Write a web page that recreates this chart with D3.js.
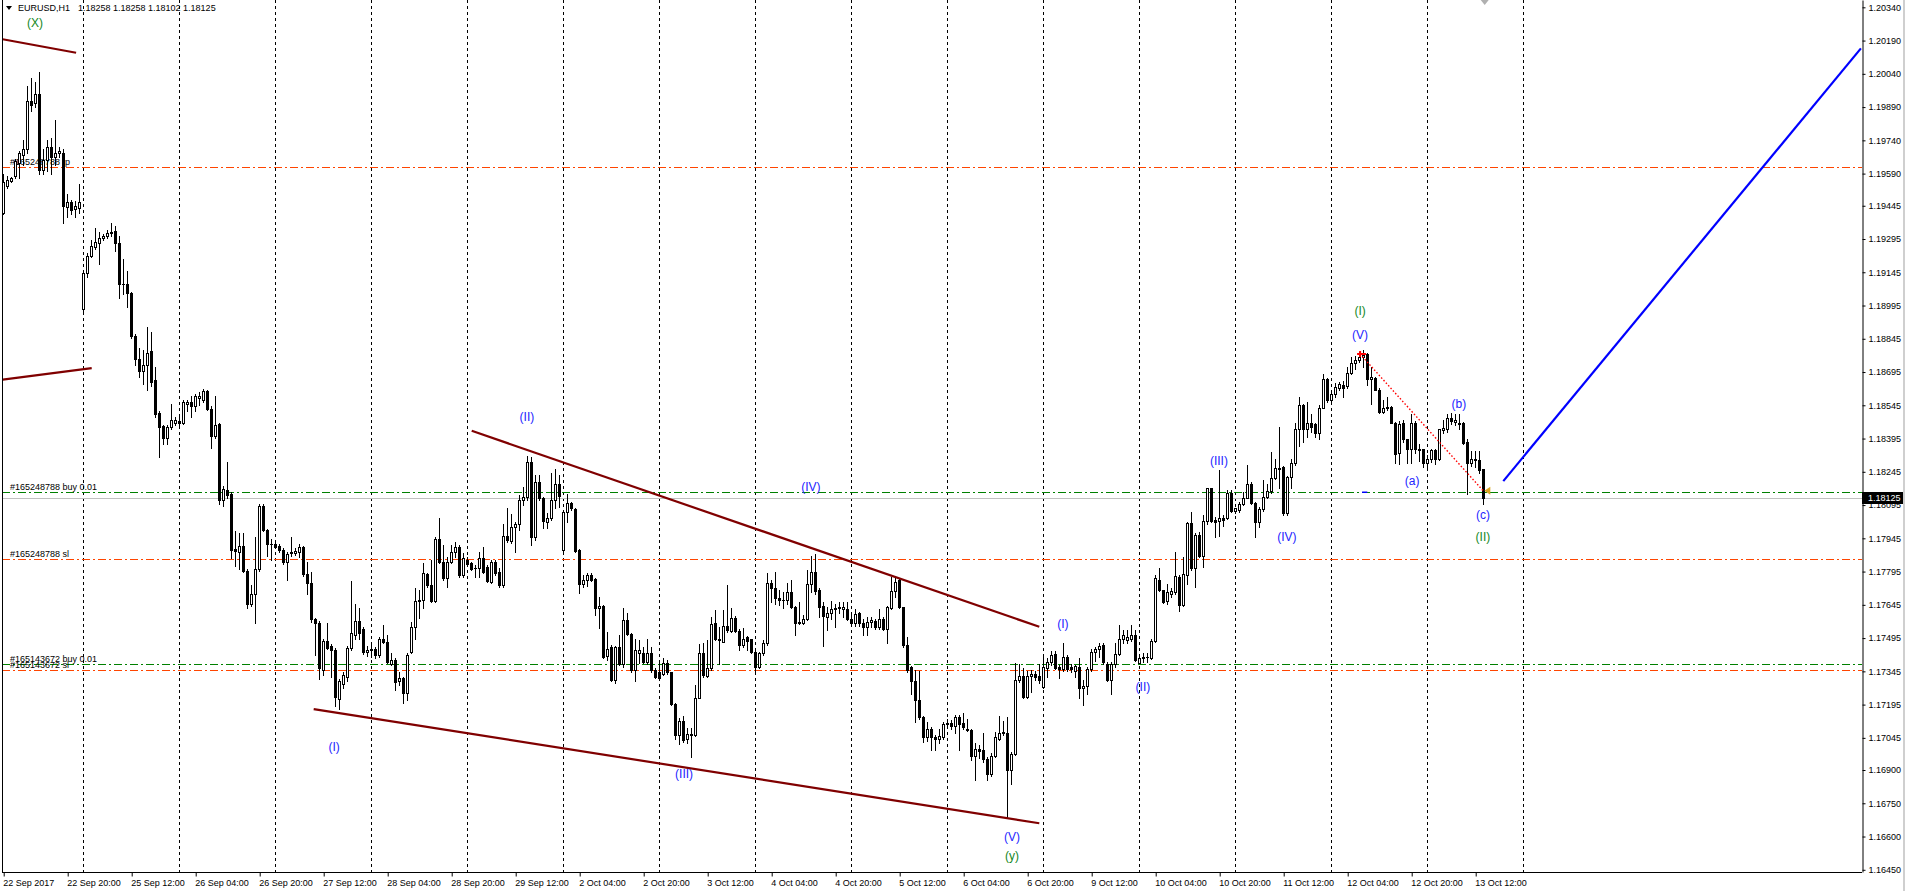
<!DOCTYPE html>
<html>
<head>
<meta charset="utf-8">
<script src="https://cdn.jsdelivr.net/npm/d3@7"></script>
<style>
body { margin: 0; background: #fff; overflow: hidden; }
svg { display: block; }
text { font-family: "Liberation Sans", Arial, sans-serif; }
</style>
</head>
<body>
<script>
// EURUSD H1 bars, one array per trading day, each bar [open, high, low, close]
// given in points above 1.10000 (8125 -> 1.18125)
var sep22 = [[9411,9590,9406,9552],[9533,9580,9524,9561],[9556,9575,9550,9571],[9580,9655,9571,9646],[9640,9693,9571,9683],[9674,9740,9627,9702],[9702,9983,9683,9918],[9918,10021,9871,9899],[9908,10002,9890,9950],[9950,10049,9590,9608],[9608,9700,9590,9650],[9650,9740,9600,9711],[9711,9750,9590,9665],[9665,9833,9627,9683],[9683,9711,9665,9693],[9683,9702,9368,9443],[9440,9496,9393,9462],[9462,9470,9410,9425],[9430,9468,9393,9443],[9436,9543,9412,9462]];
var sep25 = [[8980,9149,8971,9140],[9140,9233,9125,9218],[9218,9290,9214,9265],[9261,9346,9252,9280],[9276,9327,9181,9299],[9299,9318,9290,9308],[9308,9336,9300,9321],[9321,9365,9308,9327],[9333,9355,9243,9275],[9275,9308,9027,9093],[9093,9205,9046,9090],[9093,9149,8990,9050],[9050,9055,8850,8858],[8858,8865,8727,8755],[8755,8802,8671,8699],[8699,8793,8643,8727],[8727,8896,8615,8783],[8789,8877,8633,8652],[8658,8718,8493,8506],[8508,8521,8314,8446],[8450,8455,8371,8399],[8399,8455,8371,8446],[8446,8549,8437,8478],[8464,8490,8455,8478]];
var sep26 = [[8474,8506,8446,8464],[8464,8568,8460,8558],[8552,8568,8521,8558],[8558,8587,8493,8540],[8540,8596,8521,8587],[8577,8605,8545,8587],[8568,8620,8560,8611],[8611,8615,8525,8530],[8530,8540,8352,8405],[8405,8587,8399,8455],[8459,8464,8099,8118],[8118,8183,8093,8168],[8165,8287,8127,8142],[8146,8155,7855,7893],[7895,7977,7818,7890],[7883,7968,7808,7912],[7912,7968,7793,7799],[7799,7808,7630,7649],[7649,7733,7640,7696],[7696,7949,7565,7808],[7808,8099,7799,8090],[8090,8099,7977,7981],[7981,7987,7865,7921],[7921,7940,7846,7918]];
var sep27 = [[7921,7925,7900,7908],[7912,7918,7885,7893],[7893,7902,7827,7836],[7836,7883,7756,7874],[7878,7949,7865,7883],[7880,7900,7871,7887],[7883,7921,7860,7906],[7906,7912,7775,7786],[7786,7837,7696,7743],[7743,7793,7568,7580],[7580,7584,7418,7565],[7565,7574,7312,7358],[7349,7490,7330,7480],[7480,7565,7448,7452],[7458,7470,7321,7443],[7443,7452,7190,7230],[7220,7310,7175,7302],[7290,7340,7270,7330],[7321,7460,7300,7452],[7452,7752,7443,7518],[7508,7649,7490,7574],[7574,7630,7490,7518],[7537,7545,7425,7433],[7433,7460,7415,7443]];
var sep28 = [[7440,7471,7411,7445],[7445,7455,7405,7418],[7418,7501,7411,7493],[7493,7553,7471,7478],[7478,7508,7381,7388],[7378,7426,7373,7396],[7396,7403,7260,7298],[7302,7343,7283,7313],[7313,7320,7203,7248],[7248,7426,7215,7418],[7433,7569,7426,7546],[7546,7719,7493,7662],[7662,7711,7584,7666],[7666,7832,7629,7787],[7782,7787,7726,7734],[7734,7847,7659,7663],[7663,7950,7659,7944],[7944,8035,7832,7839],[7839,7914,7757,7764],[7764,7862,7727,7839],[7839,7914,7832,7884],[7884,7929,7862,7907],[7907,7914,7772,7779],[7779,7877,7772,7854]];
var sep29 = [[7847,7862,7824,7829],[7832,7840,7800,7805],[7809,7824,7772,7809],[7809,7884,7772,7857],[7857,7907,7787,7794],[7817,7824,7749,7754],[7749,7847,7742,7839],[7839,7847,7779,7787],[7794,7809,7727,7734],[7734,8008,7724,7957],[7957,8080,7930,7937],[7934,8054,7925,7994],[7994,8020,7884,8008],[8008,8140,7982,8120],[8120,8178,8095,8130],[8133,8317,8117,8290],[8287,8313,7914,7949],[7952,8230,7937,8200],[8197,8230,8117,8125],[8128,8132,7990,8024],[8020,8057,7990,8035],[8035,8238,8027,8117],[8117,8257,8080,8190],[8190,8230,8087,8135]];
var oct02 = [[7892,8065,7880,8062],[8065,8147,8020,8105],[8105,8110,8072,8080],[8077,8080,7884,7889],[7892,7895,7699,7739],[7739,7779,7727,7757],[7757,7787,7729,7779],[7779,7787,7752,7757],[7761,7764,7599,7629],[7629,7681,7539,7639],[7639,7644,7403,7411],[7415,7524,7396,7448],[7456,7463,7302,7308],[7308,7459,7293,7453],[7453,7508,7373,7378],[7378,7629,7366,7576],[7576,7609,7508,7513],[7513,7516,7343,7351],[7351,7493,7302,7441],[7426,7486,7381,7441],[7429,7456,7381,7388],[7388,7493,7378,7429],[7429,7456,7343,7351],[7351,7358,7313,7320]];
var oct03 = [[7343,7388,7305,7313],[7335,7403,7328,7384],[7384,7396,7335,7343],[7340,7343,7193,7197],[7197,7200,7042,7057],[7057,7133,7017,7122],[7122,7143,7027,7035],[7042,7088,7023,7062],[7062,7088,6957,7057],[7057,7283,7053,7223],[7227,7468,7223,7429],[7426,7471,7320,7328],[7325,7486,7320,7358],[7358,7588,7351,7558],[7561,7621,7486,7489],[7489,7546,7378,7486],[7478,7621,7478,7549],[7549,7734,7524,7531],[7528,7629,7524,7587],[7587,7594,7524,7528],[7528,7534,7441,7463],[7463,7539,7456,7493],[7498,7504,7441,7483],[7489,7493,7426,7433]];
var oct04 = [[7433,7440,7338,7365],[7365,7433,7358,7426],[7426,7486,7418,7471],[7471,7789,7463,7744],[7744,7756,7659,7719],[7719,7794,7651,7674],[7678,7714,7644,7666],[7666,7704,7629,7669],[7666,7744,7651,7704],[7704,7759,7629,7636],[7636,7639,7508,7564],[7564,7659,7558,7568],[7564,7598,7558,7583],[7579,7802,7576,7737],[7737,7865,7704,7794],[7794,7874,7696,7708],[7711,7719,7591,7636],[7639,7659,7459,7594],[7591,7636,7531,7606],[7606,7663,7583,7624],[7628,7651,7543,7632],[7632,7659,7606,7636],[7624,7659,7591,7636],[7624,7659,7576,7579]];
var oct05 = [[7583,7606,7553,7564],[7564,7624,7549,7603],[7606,7613,7549,7561],[7564,7583,7508,7543],[7543,7591,7508,7568],[7568,7591,7546,7576],[7573,7583,7538,7543],[7543,7628,7534,7583],[7583,7588,7531,7534],[7538,7639,7474,7636],[7629,7771,7624,7708],[7708,7771,7681,7749],[7756,7764,7629,7633],[7633,7636,7456,7463],[7463,7501,7343,7350],[7365,7370,7245,7302],[7302,7350,7117,7215],[7215,7347,7132,7137],[7140,7143,7027,7047],[7047,7117,7032,7087],[7087,7095,6990,7047],[7047,7057,6990,7042],[7042,7087,7023,7053],[7047,7117,7042,7107]];
var oct06 = [[7107,7132,7095,7110],[7110,7125,7087,7098],[7098,7147,7065,7137],[7137,7147,6990,7107],[7110,7155,7087,7095],[7087,7132,7077,7080],[7080,7083,6944,6963],[6963,7020,6857,6997],[6997,7012,6952,6987],[6990,7065,6937,6948],[6948,6959,6857,6884],[6881,6975,6872,6963],[6963,7072,6957,7050],[7042,7143,7035,7068],[7072,7122,7057,7065],[7068,7140,6686,6902],[6899,6982,6839,6972],[6972,7383,6967,7308],[7308,7380,7298,7323],[7323,7358,7223,7230],[7230,7347,7227,7323],[7323,7350,7253,7332],[7332,7347,7305,7320],[7323,7380,7293,7308]];
var oct09 = [[7275,7408,7272,7365],[7358,7403,7320,7388],[7388,7437,7373,7418],[7422,7437,7354,7358],[7365,7373,7313,7354],[7354,7471,7347,7411],[7411,7418,7347,7354],[7365,7380,7343,7354],[7347,7373,7320,7369],[7365,7403,7227,7268],[7268,7305,7193,7278],[7278,7365,7245,7354],[7354,7448,7347,7433],[7433,7456,7392,7448],[7448,7474,7411,7459],[7463,7471,7380,7388],[7380,7388,7302,7308],[7308,7388,7245,7377],[7377,7471,7365,7422],[7422,7553,7418,7489],[7489,7531,7471,7508],[7486,7530,7475,7500],[7493,7555,7480,7509],[7509,7530,7392,7396]];
var oct10 = [[7384,7414,7381,7403],[7403,7426,7388,7408],[7408,7426,7388,7408],[7403,7489,7399,7483],[7483,7780,7478,7764],[7759,7809,7708,7711],[7711,7714,7654,7659],[7663,7741,7648,7704],[7696,7719,7681,7708],[7704,7884,7696,7774],[7771,7779,7618,7644],[7644,7859,7639,7783],[7779,8020,7738,8012],[8012,8065,7804,7809],[7809,7967,7726,7959],[7959,7974,7862,7865],[7865,8050,7817,8024],[8024,8174,8009,8170],[8170,8174,8020,8024],[8027,8042,7949,8020],[8024,8253,7955,8035],[8035,8050,8000,8027],[8035,8162,8030,8150],[8150,8162,8065,8069]];
var oct11 = [[8069,8084,8057,8080],[8072,8110,8065,8102],[8102,8155,8095,8129],[8129,8275,8125,8189],[8192,8200,8102,8105],[8105,8110,7949,8020],[8020,8087,7997,8075],[8075,8207,8069,8132],[8132,8192,8125,8159],[8159,8335,8150,8215],[8215,8301,8211,8260],[8264,8448,8170,8256],[8268,8271,8050,8057],[8057,8226,8050,8222],[8222,8305,8174,8283],[8283,8463,8275,8436],[8436,8584,8361,8546],[8546,8553,8380,8440],[8440,8561,8403,8466],[8466,8505,8425,8448],[8460,8466,8400,8421],[8421,8546,8395,8535],[8535,8686,8531,8662],[8662,8666,8561,8571]];
var oct12 = [[8571,8606,8553,8598],[8595,8646,8583,8628],[8621,8651,8613,8640],[8636,8654,8583,8625],[8631,8716,8625,8692],[8692,8764,8686,8734],[8737,8767,8707,8749],[8749,8786,8741,8764],[8761,8794,8719,8771],[8776,8779,8636,8662],[8662,8719,8553,8671],[8666,8671,8613,8616],[8616,8621,8511,8516],[8516,8571,8511,8531],[8531,8583,8526,8538],[8538,8541,8463,8466],[8466,8470,8283,8325],[8330,8475,8280,8460],[8466,8480,8380,8391],[8391,8395,8283,8346],[8346,8506,8284,8466],[8466,8476,8330,8346],[8346,8370,8295,8343],[8346,8350,8268,8283]];
var oct13 = [[8283,8320,8265,8305],[8305,8350,8288,8343],[8343,8350,8280,8305],[8305,8440,8300,8436],[8433,8480,8418,8441],[8436,8506,8426,8486],[8486,8508,8460,8475],[8470,8506,8457,8478],[8460,8506,8440,8463],[8463,8470,8370,8376],[8380,8395,8147,8283],[8283,8340,8270,8305],[8305,8340,8265,8298],[8298,8340,8240,8253],[8258,8258,8102,8125]];

var days = [sep22, sep25, sep26, sep27, sep28, sep29, oct02, oct03, oct04, oct05, oct06, oct09, oct10, oct11, oct12, oct13];

// price axis labels
var priceTicks = ["1.20340","1.20190","1.20040","1.19890","1.19740","1.19590","1.19445","1.19295","1.19145","1.18995","1.18845","1.18695","1.18545","1.18395","1.18245","1.18095","1.17945","1.17795","1.17645","1.17495","1.17345","1.17195","1.17045","1.16900","1.16750","1.16600","1.16450"];

// time axis labels, every 16 bars from the first bar
var timeLabels = ["22 Sep 2017","22 Sep 20:00","25 Sep 12:00","26 Sep 04:00","26 Sep 20:00","27 Sep 12:00","28 Sep 04:00","28 Sep 20:00","29 Sep 12:00","2 Oct 04:00","2 Oct 20:00","3 Oct 12:00","4 Oct 04:00","4 Oct 20:00","5 Oct 12:00","6 Oct 04:00","6 Oct 20:00","9 Oct 12:00","10 Oct 04:00","10 Oct 20:00","11 Oct 12:00","12 Oct 04:00","12 Oct 20:00","13 Oct 12:00"];
var timeLabelBars = [0,16,32,48,64,80,96,112,128,144,160,176,192,208,224,240,256,272,288,304,320,336,352,368];

// day separators (bar index of each midnight)
var dayBars = [20,44,68,92,116,140,164,188,212,236,260,284,308,332,356,380];

// order lines
var orderNames = ["#165248788 tp","#165248788 buy 0.01","#165248788 sl","#165143672 buy 0.01","#165143672 sl"];
var orderPrices = [1.19621, 1.18155, 1.17850, 1.17376, 1.17350];
var orderKinds = ["stop","open","stop","open","stop"];
var bidPrice = 1.18125;
var header = ["EURUSD,H1", "1.18258 1.18258 1.18102 1.18125"];

// wave counts
var waveText = ["(X)","(I)","(II)","(III)","(IV)","(V)","(y)","(I)","(II)","(III)","(IV)","(I)","(V)","(a)","(b)","(c)","(II)"];
var waveBar = [7.8, 82.6, 130.8, 170.1, 201.8, 252.1, 252.1, 264.8, 284.8, 303.8, 320.8, 339.1, 339.1, 352.1, 363.8, 369.8, 369.8];
var wavePrice = [1.20269, 1.17003, 1.18492, 1.16881, 1.18176, 1.16597, 1.16511, 1.17558, 1.17274, 1.18293, 1.17951, 1.18972, 1.18862, 1.18203, 1.18550, 1.18050, 1.17951];
var waveDegree = ["major","minor","minor","minor","minor","minor","major","minor","minor","minor","minor","major","minor","minor","minor","minor","major"];

// trend lines [bar1, price1, bar2, price2]
var channelLines = [[-0.25, 1.20196, 18.1, 1.20135], [-0.25, 1.18661, 22, 1.18713], [117, 1.18430, 258.9, 1.17546], [77.5, 1.17175, 258.9, 1.16660]];
var targetLine = [374.9, 1.18203, 464.3, 1.20155];
var tradeLine = [339.1, 1.18776, 369.9, 1.18159];

var W = 1905, H = 891;
var left = 2, right = 1862, bottom = 872;

var bars = [];
days.forEach(function(day) {
  day.forEach(function(b) {
    bars.push({o: 1.1 + b[0] / 1e5, h: 1.1 + b[1] / 1e5, l: 1.1 + b[2] / 1e5, c: 1.1 + b[3] / 1e5});
  });
});

var x = d3.scaleLinear().domain([-0.425, 464.575]).range([left, right]);
var y = d3.scaleLinear().domain([1.20373, 1.16440]).range([0, bottom]);

var svg = d3.select("body").append("svg")
    .attr("width", W)
    .attr("height", H);

svg.append("defs").append("clipPath").attr("id", "plot")
    .append("rect").attr("x", left).attr("y", 0).attr("width", right - left).attr("height", bottom);

var plot = svg.append("g").attr("clip-path", "url(#plot)");

// grid
plot.selectAll("line.grid").data(dayBars).enter().append("line")
    .attr("x1", function(d) { return Math.floor(x(d)) + 0.5; })
    .attr("x2", function(d) { return Math.floor(x(d)) + 0.5; })
    .attr("y1", 0).attr("y2", bottom)
    .attr("stroke", "#000").attr("stroke-dasharray", "3,3");

// order lines + labels
orderPrices.forEach(function(p, k) {
  var yy = Math.round(y(p)) + 0.5;
  plot.append("line")
      .attr("x1", left).attr("x2", right).attr("y1", yy).attr("y2", yy)
      .attr("stroke", orderKinds[k] == "open" ? "#008000" : "#ff4500")
      .attr("stroke-dasharray", "8,3,2,3");
  plot.append("text")
      .attr("x", 10).attr("y", yy - 3)
      .attr("font-size", 9).attr("fill", "#000")
      .text(orderNames[k]);
});

var by = Math.round(y(bidPrice)) + 0.5;
plot.append("line").attr("x1", left).attr("x2", right).attr("y1", by).attr("y2", by)
    .attr("stroke", "#c0c0c0");

// candles
var cg = plot.append("g").attr("shape-rendering", "crispEdges");
bars.forEach(function(b, i) {
  var cx = Math.floor(x(i));
  var yh = Math.round(y(b.h)), yl = Math.round(y(b.l));
  var top = Math.round(y(Math.max(b.o, b.c))), bot = Math.round(y(Math.min(b.o, b.c)));
  cg.append("rect").attr("x", cx).attr("y", yh).attr("width", 1).attr("height", Math.max(1, yl - yh + 1)).attr("fill", "#000");
  cg.append("rect").attr("x", cx - 1).attr("y", top).attr("width", 3).attr("height", Math.max(1, bot - top + 1)).attr("fill", "#000");
  if (b.c > b.o && bot - top >= 2) {
    cg.append("rect").attr("x", cx).attr("y", top + 1).attr("width", 1).attr("height", bot - top - 1).attr("fill", "#fff");
  }
});

// trend lines
channelLines.forEach(function(l) {
  plot.append("line")
      .attr("x1", x(l[0])).attr("y1", y(l[1])).attr("x2", x(l[2])).attr("y2", y(l[3]))
      .attr("stroke", "#800000").attr("stroke-width", 2.2);
});
plot.append("line")
    .attr("x1", x(targetLine[0])).attr("y1", y(targetLine[1])).attr("x2", x(targetLine[2])).attr("y2", y(targetLine[3]))
    .attr("stroke", "#0000ff").attr("stroke-width", 2.2);

plot.append("line")
    .attr("x1", x(tradeLine[0])).attr("y1", y(tradeLine[1])).attr("x2", x(tradeLine[2])).attr("y2", y(tradeLine[3]))
    .attr("stroke", "#ff0000").attr("stroke-width", 1.4).attr("stroke-dasharray", "1.5,2");
var sx = x(tradeLine[0]), sy = y(tradeLine[1]);
plot.append("path")
    .attr("d", "M" + (sx - 3) + "," + sy + "H" + (sx + 6) + "M" + sx + "," + (sy - 3) + "V" + (sy + 3))
    .attr("stroke", "#ff0000").attr("stroke-width", 2);
var ex = x(tradeLine[2]) + 2, ey = y(tradeLine[3]);
plot.append("path")
    .attr("d", "M" + (ex - 1) + "," + ey + "L" + (ex + 5) + "," + (ey - 4) + "L" + (ex + 5) + "," + (ey + 4) + "Z")
    .attr("fill", "#daa520");
plot.append("line")
    .attr("x1", x(339.6)).attr("x2", x(340.9)).attr("y1", y(orderPrices[1]) + 0.5).attr("y2", y(orderPrices[1]) + 0.5)
    .attr("stroke", "#0000ff").attr("stroke-width", 1.5);

// wave labels
waveText.forEach(function(t, k) {
  plot.append("text")
      .attr("x", x(waveBar[k])).attr("y", y(wavePrice[k]))
      .attr("text-anchor", "middle").attr("dominant-baseline", "central")
      .attr("font-size", 12)
      .attr("fill", waveDegree[k] == "major" ? "#14881e" : "#2424ff")
      .text(t);
});

// chart shift marker
var mx = x(bars.length - 1) + 1;
svg.append("path").attr("d", "M" + (mx - 4) + ",0L" + (mx + 4) + ",0L" + mx + ",5Z").attr("fill", "#b0b0b0");

// frame
svg.append("line").attr("x1", left + 0.5).attr("x2", left + 0.5).attr("y1", 0).attr("y2", bottom).attr("stroke", "#000");

// axes
var yAxis = d3.axisRight(y)
    .tickValues(priceTicks.map(Number))
    .tickFormat(function(d, k) { return priceTicks[k]; })
    .tickSize(3).tickPadding(3).tickSizeOuter(0);
var ya = svg.append("g").attr("transform", "translate(" + (right + 0.5) + ",0)").call(yAxis);
ya.selectAll("text").attr("font-size", 9).attr("font-family", "Liberation Sans, Arial, sans-serif").attr("fill", "#000");

var xAxis = d3.axisBottom(x)
    .tickValues(timeLabelBars)
    .tickFormat(function(d, k) { return timeLabels[k]; })
    .tickSize(4).tickPadding(3).tickSizeOuter(0);
var xa = svg.append("g").attr("transform", "translate(0," + (bottom + 0.5) + ")").call(xAxis);
xa.selectAll("text").attr("font-size", 9).attr("font-family", "Liberation Sans, Arial, sans-serif")
    .attr("text-anchor", "start").attr("x", -1).attr("fill", "#000");
xa.select(".domain").attr("d", "M" + left + ",0H" + right);

// bid label on the price scale
svg.append("rect").attr("x", right).attr("y", Math.round(y(bidPrice)) - 6).attr("width", 41).attr("height", 12).attr("fill", "#000");
svg.append("text").attr("x", right + 6).attr("y", y(bidPrice)).attr("dy", "0.34em")
    .attr("font-size", 9).attr("fill", "#fff").text(bidPrice.toFixed(5));

svg.append("rect").attr("x", W - 2).attr("y", 0).attr("width", 2).attr("height", H).attr("fill", "#cfcfcf");

// header
svg.append("path").attr("d", "M6,6H12L9,10Z").attr("fill", "#000");
svg.append("text").attr("x", 18).attr("y", 11).attr("font-size", 9).attr("fill", "#000").text(header[0]);
svg.append("text").attr("x", 78).attr("y", 11).attr("font-size", 9).attr("fill", "#000").text(header[1]);
</script>
</body>
</html>
